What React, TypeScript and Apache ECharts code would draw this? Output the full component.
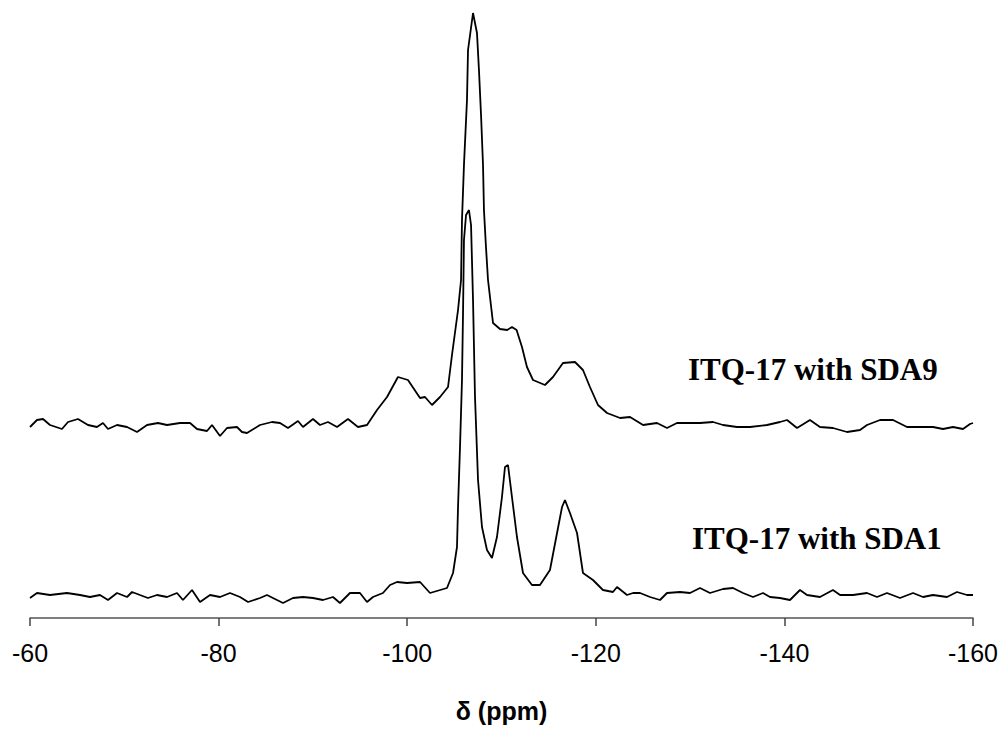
import React, { useEffect, useRef } from "react";
import * as echarts from "echarts";

// Chemical shift (ppm) and intensity (arbitrary units, relative to own baseline)
const sda9Ppm = [
  -60.0, -60.74, -61.38, -62.12, -63.39, -64.03, -65.09, -66.15, -67.1, -67.74, -68.27, -69.23, -70.29, -71.35, -72.41,
  -73.57, -74.53, -75.91, -76.97, -77.71, -78.77, -79.3, -80.15, -80.89, -81.95, -82.48, -83.01, -84.39, -85.66, -86.51,
  -87.36, -88.42, -88.95, -90.01, -90.75, -91.6, -92.56, -93.72, -94.78, -95.74, -96.8, -97.86, -99.02, -100.08, -101.36,
  -101.89, -102.63, -103.48, -104.33, -104.75, -105.39, -105.71, -105.81, -106.02, -106.34, -106.45, -106.98, -107.4,
  -107.61, -107.83, -108.04, -108.14, -108.36, -108.57, -109.1, -109.84, -110.6, -111.11, -111.6, -112.17, -112.7, -113.34, -114.61,
  -115.46, -116.52, -117.79, -118.64, -119.38, -120.23, -121.19, -122.57, -123.63, -125.01, -126.49, -127.55, -128.61,
  -129.67, -131.05, -132.43, -133.49, -134.97, -136.35, -138.16, -139.53, -140.28, -141.34, -142.71, -143.77, -145.15,
  -146.64, -148.02, -148.76, -150.14, -151.52, -153.0, -154.38, -155.76, -156.82, -157.88, -158.94, -159.68, -160.0,
];
const sda9Int = [
  -2, 5, 6, 0, -4, 3, 6, 0, -2, 2, -4, 0, -2, -7, 0,
  2, 0, 2, 2, -4, -6, 0, -11, -3, -2, -7, -8, 0, 3, 2,
  -3, 4, -2, 6, 0, 3, -2, 6, -2, 0, 15, 28, 48, 45, 27,
  28, 20, 28, 38, 70, 115, 145, 205, 260, 325, 375, 412, 392,
  355, 310, 260, 215, 177, 145, 102, 96, 95, 98, 95, 78, 58, 45, 40,
  48, 62, 63, 55, 38, 20, 12, 7, 8, 0, 2, -3, 2,
  2, 2, 3, 0, -2, -2, 0, 3, 5, -3, 5, -2, -3,
  -7, -5, 0, 5, 5, -2, -2, -2, -4, -2, -4, 1, 2,
];

const sda1Ppm = [
  -60.0, -60.74, -62.12, -63.92, -65.3, -66.36, -67.42, -68.27, -69.23, -70.29, -70.82, -71.66, -72.51, -73.47, -74.53,
  -75.59, -76.22, -77.18, -78.03, -79.09, -80.15, -81.21, -82.27, -83.12, -84.39, -85.13, -86.19, -86.83, -87.89, -88.95,
  -90.01, -91.07, -92.13, -92.87, -93.93, -94.99, -95.74, -96.37, -97.43, -98.18, -98.92, -99.98, -101.36, -102.42,
  -104.22, -104.86, -105.28, -105.39, -105.6, -105.81, -105.92, -106.02, -106.24, -106.55, -106.77, -106.98, -107.19,
  -107.51, -107.93, -108.46, -108.99, -109.52, -110.05, -110.37, -110.69, -111.11, -111.64, -112.28, -113.23, -114.08,
  -115.14, -115.89, -116.42, -116.73, -117.26, -118.01, -118.64, -119.7, -120.76, -121.82, -122.25, -123.31, -123.95,
  -124.69, -125.75, -126.81, -127.55, -128.93, -129.99, -131.05, -132.11, -133.49, -134.55, -135.61, -136.67, -137.73,
  -138.47, -139.53, -140.59, -141.65, -142.4, -143.77, -145.15, -145.9, -147.28, -148.76, -149.82, -150.88, -152.26,
  -153.64, -154.7, -155.76, -157.24, -158.3, -159.36, -160.0,
];
const sda1Int = [
  -3, 2, 0, 2, 0, -2, 0, -5, 2, -2, 3, 0, -3, 0, -2,
  2, -5, 5, -7, 0, -2, 2, -2, -7, -3, 0, -5, -8, -3, -2,
  -3, -5, -2, -8, 2, 2, -7, -2, 2, 10, 13, 12, 13, 2,
  7, 22, 48, 88, 148, 215, 282, 355, 380, 385, 370, 295, 198,
  115, 68, 45, 37, 58, 98, 128, 130, 98, 58, 22, 10, 10,
  25, 62, 88, 95, 82, 62, 22, 15, 5, 3, 8, 0, 2,
  2, -2, -5, 2, 3, 2, 7, 2, 6, 7, 2, -2, 2,
  -2, -3, -5, 5, 0, -2, 5, 0, 0, 2, -2, 2, -3,
  2, -2, 0, -2, 3, 0, 0,
];

const sda9Offset = 193;
const sda1Offset = 23;

const seriesNames = ["ITQ-17 with SDA9", "ITQ-17 with SDA1"];
const xTicks = { min: -160, max: -60, interval: 20 };
const xTitle = "δ (ppm)";

export default function App() {
  const ref = useRef<HTMLDivElement>(null);
  useEffect(() => {
    if (!ref.current) return;
    const chart = echarts.init(ref.current, undefined, { renderer: "svg" });
    const upper = sda9Ppm.map((p, i) => [p, sda9Int[i] + sda9Offset]);
    const lower = sda1Ppm.map((p, i) => [p, sda1Int[i] + sda1Offset]);
    chart.setOption({
      animation: false,
      backgroundColor: "#ffffff",
      grid: { left: 30, right: 32, top: 8, bottom: 116 },
      xAxis: {
        type: "value",
        min: xTicks.min,
        max: xTicks.max,
        interval: xTicks.interval,
        inverse: true,
        name: xTitle,
        nameLocation: "middle",
        nameGap: 80,
        nameTextStyle: {
          fontFamily: "Liberation Sans",
          fontWeight: "bold",
          fontSize: 25,
          color: "#000",
        },
        axisLine: { show: true, lineStyle: { color: "#555", width: 1.5 } },
        axisTick: { show: true, inside: false, length: 8, lineStyle: { color: "#444", width: 1.5 } },
        axisLabel: {
          fontFamily: "Liberation Sans",
          fontSize: 25,
          color: "#000",
          margin: 22,
        },
        splitLine: { show: false },
      },
      yAxis: {
        type: "value",
        min: 0,
        max: 610,
        show: false,
        splitLine: { show: false },
      },
      series: [
        {
          name: seriesNames[0],
          type: "line",
          data: upper,
          showSymbol: false,
          lineStyle: { color: "#000", width: 1.8 },
        },
        {
          name: seriesNames[1],
          type: "line",
          data: lower,
          showSymbol: false,
          lineStyle: { color: "#000", width: 1.8 },
        },
      ],
      graphic: [
        {
          type: "text",
          x: 688,
          y: 369,
          style: {
            text: seriesNames[0],
            font: "bold 31px 'Liberation Serif'",
            fill: "#000",
            align: "left",
            verticalAlign: "middle",
          },
        },
        {
          type: "text",
          x: 692,
          y: 538,
          style: {
            text: seriesNames[1],
            font: "bold 31px 'Liberation Serif'",
            fill: "#000",
            align: "left",
            verticalAlign: "middle",
          },
        },
      ],
    });
    return () => chart.dispose();
  }, []);
  return (
    <div
      ref={ref}
      style={{ position: "fixed", left: 0, top: 0, width: 1005, height: 734, background: "#fff" }}
    />
  );
}
